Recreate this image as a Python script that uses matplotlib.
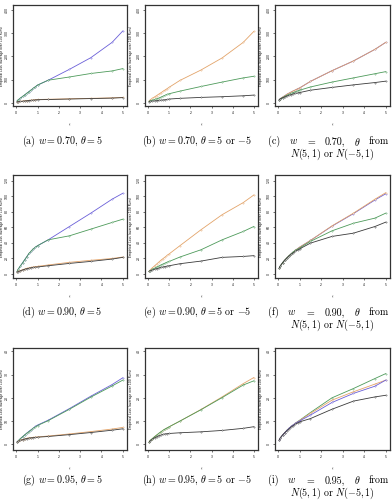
import numpy as np                                                                      # type: ignore
import matplotlib
matplotlib.use("Agg")
import matplotlib.pyplot as plt                                                         # type: ignore

plt.rcParams["mathtext.fontset"] = "cm"
plt.rcParams["axes.formatter.use_mathtext"] = True

# Epsilon grid (x axis)
eps = [0.05, 0.1, 0.2, 0.3, 0.4, 0.5, 0.6, 0.7, 0.8, 0.9, 1.0, 1.5, 2.5, 3.5, 4.5, 5.0]

# Row 1: w = 0.70
a_blue   = [9, 13, 20, 27, 34, 41, 48, 55, 62, 69, 76, 97, 144, 194, 260, 309]
a_green  = [9, 13, 20, 27, 34, 41, 48, 55, 62, 69, 76, 97, 111, 126, 137, 147]
a_orange = [4, 5, 6, 7, 8, 9, 10, 11, 12, 13, 14, 15, 17, 19, 21, 23]
a_black  = [4, 4.5, 5.5, 6.5, 7.5, 8.5, 9.5, 10.5, 11, 12, 13, 14, 16, 18, 20, 22]

b_orange = [8, 13, 19, 25, 31, 37, 43, 49, 55, 61, 67, 96, 141, 193, 260, 307]
b_green  = [6, 8, 11, 14, 17, 20, 24, 28, 32, 36, 39, 50, 70, 89, 107, 114]
b_black  = [5, 6, 7, 8, 9, 10, 11, 12, 13, 14, 16, 19, 23, 26, 30, 33]

c_blue   = [13, 18, 24, 30, 36, 41, 46, 51, 55, 60, 64, 92, 138, 180, 230, 260]
c_orange = [13, 18, 24, 30, 36, 41, 46, 51, 55, 60, 64, 92, 138, 180, 230, 260]
c_green  = [13, 17, 22, 27, 32, 36, 40, 44, 47, 51, 54, 68, 89, 107, 125, 134]
c_black  = [13, 17, 21, 25, 29, 32, 35, 38, 40, 42, 44, 54, 66, 77, 87, 93]

# Row 2: w = 0.90
d_blue   = [3, 6, 10, 14, 18, 22, 26, 29, 32, 34, 36, 43.6, 60.8, 78, 96, 103.6]
d_green  = [3, 6, 10, 14, 18, 22, 26, 29, 32, 34, 36, 43.6, 48.8, 57.4, 66, 70.2]
d_orange = [2, 2.8, 4, 5, 6, 6.8, 7.4, 8, 8.6, 9, 9.4, 11.2, 14.6, 17.2, 19.6, 21.4]
d_black  = [2, 2.6, 3.8, 4.8, 5.6, 6.4, 7, 7.6, 8, 8.4, 8.6, 10.2, 13.2, 15.8, 18.8, 21]

e_orange = [3, 5, 7.6, 10, 12.4, 14.8, 17.2, 19.4, 21.4, 23.6, 25.6, 36, 56.6, 76, 91.6, 101.4]
e_green  = [3, 4, 5.6, 7, 8.4, 9.8, 11.2, 12.4, 13.6, 14.8, 15.8, 21.4, 30.8, 43.6, 54.4, 60.8]
e_black  = [3, 3.6, 4.6, 5.6, 6.4, 7.2, 8, 8.6, 9.2, 9.8, 10.2, 12.8, 16.2, 21, 22.2, 23.2]

f_blue   = [7.2, 10, 14, 17.4, 20.4, 23.2, 25.6, 28, 30.2, 32.2, 34.2, 42.8, 61.2, 77.4, 95, 103]
f_orange = [7.2, 10, 14, 17.4, 20.4, 23.2, 25.6, 28, 30.2, 32.2, 34.2, 42.8, 61.6, 78, 96, 104.4]
f_green  = [7.2, 10, 14, 17.4, 20.4, 23.2, 25.6, 28, 30, 31.6, 33.2, 41.6, 55.2, 65, 71.6, 78]
f_black  = [7.2, 10, 14, 17.2, 20, 22.6, 24.8, 27, 28.8, 30.4, 32, 39.4, 48, 52.2, 60.8, 66.4]

# Row 3: w = 0.95
g_blue   = [1.1, 1.6, 2.5, 3.3, 4.1, 4.9, 5.6, 6.3, 7, 7.7, 8.3, 10.4, 15.4, 20.7, 25.7, 28.6]
g_green  = [1.1, 1.6, 2.5, 3.3, 4.1, 4.8, 5.5, 6.2, 6.9, 7.5, 8.1, 10.2, 15.1, 20.3, 25.1, 27.6]
g_orange = [1.1, 1.4, 1.8, 2.1, 2.4, 2.6, 2.8, 2.9, 3, 3.1, 3.2, 3.6, 4.5, 5.5, 6.6, 7.3]
g_black  = [1.1, 1.3, 1.7, 2, 2.3, 2.5, 2.7, 2.8, 2.9, 3, 3.1, 3.4, 4.2, 5.1, 6.1, 6.7]

h_orange = [1, 1.7, 2.5, 3.3, 4, 4.7, 5.4, 6, 6.6, 7.1, 7.6, 10, 15, 20.4, 26.1, 28.7]
h_green  = [1, 1.7, 2.5, 3.3, 4, 4.7, 5.4, 6, 6.6, 7.1, 7.6, 10, 14.9, 20.1, 25.5, 27.3]
h_black  = [1, 1.5, 2.2, 2.8, 3.3, 3.7, 4, 4.3, 4.5, 4.6, 4.7, 5, 5.4, 6, 6.9, 7.6]

i_green  = [1.9, 2.8, 4, 5, 6, 6.9, 7.7, 8.4, 9.1, 9.8, 10.4, 13.7, 20, 24, 28.3, 30.4]
i_orange = [1.9, 2.8, 4, 5, 6, 6.9, 7.7, 8.4, 9.1, 9.7, 10.3, 13.3, 19, 22.6, 25.9, 27.6]
i_blue   = [1.9, 2.8, 4, 5, 6, 6.9, 7.7, 8.4, 9, 9.6, 10.1, 12.6, 18, 21.9, 25, 27.6]
i_black  = [1.9, 2.8, 4, 5, 5.9, 6.7, 7.5, 8.1, 8.7, 9.2, 9.7, 11.1, 15.1, 18.6, 20.4, 21.1]

# Row settings
row_yticks = [[0, 100, 200, 300, 400], [0, 20, 40, 60, 80, 100, 120], [0, 10, 20, 30, 40]]
row_ylim = [(-14, 421), (-5.6, 127.2), (-2.4, 41.4)]
w_labels = ["0.70", "0.90", "0.95"]

colors = {"blue": "#6a5fd8", "green": "#4d9a5a", "orange": "#e3a46a", "black": "#3a3a3a"}

panels = [
    [("blue", a_blue), ("green", a_green), ("orange", a_orange), ("black", a_black)],
    [("orange", b_orange), ("green", b_green), ("black", b_black)],
    [("blue", c_blue), ("orange", c_orange), ("green", c_green), ("black", c_black)],
    [("blue", d_blue), ("green", d_green), ("orange", d_orange), ("black", d_black)],
    [("orange", e_orange), ("green", e_green), ("black", e_black)],
    [("blue", f_blue), ("orange", f_orange), ("green", f_green), ("black", f_black)],
    [("blue", g_blue), ("green", g_green), ("orange", g_orange), ("black", g_black)],
    [("orange", h_orange), ("green", h_green), ("black", h_black)],
    [("green", i_green), ("orange", i_orange), ("blue", i_blue), ("black", i_black)],
]

# Figure in pixel coordinates
W, H = 392, 504
fig = plt.figure(figsize=(W / 100, H / 100), dpi=100)
renderer = fig.canvas.get_renderer()

row_px = [(5, 106), (175, 278), (348, 450)]
col_px = [(13, 127), (145, 258), (275, 390)]
caption_y = [(141.5, 154), (312.5, 325), (480.5, 493)]
caption_x = [62, 197]
letters = "abcdefghi"
cap_fs = 7.2


def justified_line(words, x_start, x_end, y):
    # Spread words over [x_start, x_end] like a justified LaTeX line
    texts = [fig.text(0, 1 - y / H, wd, family="cmr10", fontsize=cap_fs,
                      ha="left", va="center") for wd in words]
    widths = [t.get_window_extent(renderer).width for t in texts]
    gap = (x_end - x_start - sum(widths)) / (len(words) - 1)
    x = x_start
    for t, wdt in zip(texts, widths):
        t.set_x(x / W)
        x += wdt + gap


for k, series in enumerate(panels):
    r, c = divmod(k, 3)
    top, bottom = row_px[r]
    left, right = col_px[c]
    ax = fig.add_axes([left / W, 1 - bottom / H, (right - left) / W, (bottom - top) / H])
    for name, vals in series:
        ax.plot(eps, vals, color=colors[name], lw=0.6, marker="o", ms=0.9,
                mfc="white", mew=0.3)
    ax.set_xlim(-0.15, 5.2)
    ax.set_ylim(*row_ylim[r])
    ax.set_xticks([0, 1, 2, 3, 4, 5])
    ax.set_yticks(row_yticks[r])
    ax.tick_params(direction="out", length=1.5, width=0.4, labelsize=2.2, pad=1)
    for lab in ax.get_yticklabels():
        lab.set_rotation(90)
        lab.set_va("center")
    for sp in ax.spines.values():
        sp.set_linewidth(0.9)
        sp.set_color("#333333")
    ax.set_xlabel(r"$\epsilon$", fontsize=3)
    ax.xaxis.set_label_coords(0.5, -(122 - 106) / 101)
    ax.set_ylabel("Empirical Loss (average over 100 Runs)", fontsize=2.2)
    ylab_px = 4 if c == 0 else left - 12
    ax.yaxis.set_label_coords((ylab_px - left) / (right - left), 0.5)

    # Captions
    y1, y2 = caption_y[r]
    w = w_labels[r]
    if c == 0:
        fig.text(caption_x[0] / W, 1 - y1 / H,
                 rf"({letters[k]}) $w = {w}$, $\theta = 5$",
                 family="cmr10", fontsize=cap_fs, ha="center", va="center")
    elif c == 1:
        fig.text(caption_x[1] / W, 1 - y1 / H,
                 rf"({letters[k]}) $w = {w}$, $\theta = 5$ or $-5$",
                 family="cmr10", fontsize=cap_fs, ha="center", va="center")
    else:
        justified_line([f"({letters[k]})", "$w$", "$=$", f"{w},", r"$\theta$", "from"],
                       268, 389, y1)
        fig.text(290 / W, 1 - y2 / H, r"$N(5, 1)$ or $N(-5, 1)$",
                 family="cmr10", fontsize=cap_fs, ha="left", va="center")

fig.savefig("out.png", dpi=100)
